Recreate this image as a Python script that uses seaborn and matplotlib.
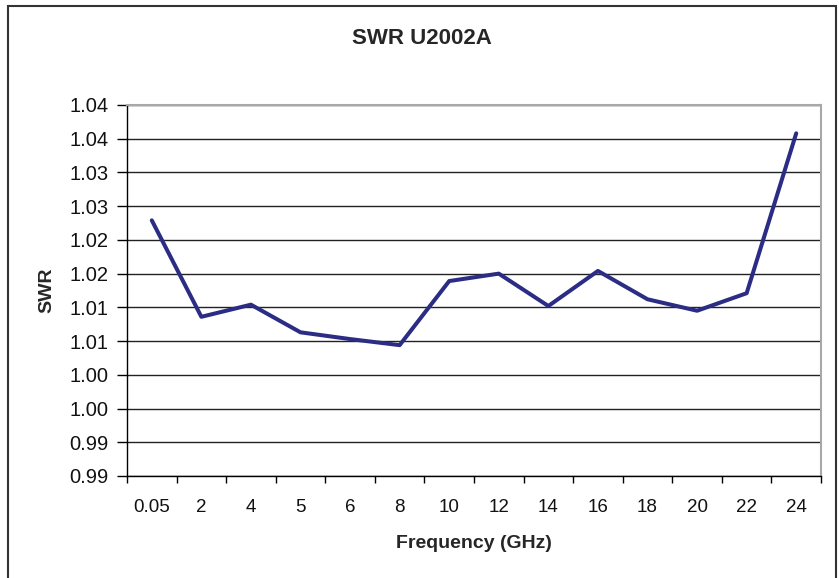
import matplotlib
matplotlib.use("Agg")
import matplotlib.pyplot as plt
import seaborn as sns
import pandas as pd
from matplotlib.patches import Rectangle

# data
freq_labels = ["0.05", "2", "4", "5", "6", "8", "10", "12", "14", "16", "18", "20", "22", "24"]
swr_values = [1.0229, 1.0086, 1.0104, 1.0063, 1.0053, 1.0044, 1.0139, 1.0150,
              1.0102, 1.0154, 1.0112, 1.0095, 1.0121, 1.0358]
y_ticks = [0.985, 0.990, 0.995, 1.000, 1.005, 1.010, 1.015, 1.020, 1.025, 1.030, 1.035, 1.040]
y_tick_labels = ["0.99", "0.99", "1.00", "1.00", "1.01", "1.01", "1.02", "1.02",
                 "1.03", "1.03", "1.04", "1.04"]


def main():
    sns.set_style("white")
    plt.rcParams["font.family"] = ["Liberation Sans", "DejaVu Sans"]

    df = pd.DataFrame({"freq": freq_labels, "swr": swr_values})

    fig = plt.figure(figsize=(8.39, 5.78), dpi=100)
    ax = fig.add_axes([127 / 839, 1 - 476 / 578, (821 - 127) / 839, (476 - 105) / 578])

    sns.lineplot(data=df, x="freq", y="swr", ax=ax, color="#2b2d85",
                 linewidth=2.9, sort=False)

    ax.set_xlim(-0.5, len(freq_labels) - 0.5)
    ax.set_ylim(y_ticks[0], y_ticks[-1])

    ax.set_yticks(y_ticks)
    ax.set_yticklabels(y_tick_labels, fontsize=14.5)
    ax.set_xticks(range(len(freq_labels)))
    ax.set_xticklabels(freq_labels, fontsize=13.5)
    ax.set_xticks([i - 0.5 for i in range(len(freq_labels) + 1)], minor=True)
    ax.tick_params(axis="x", which="major", bottom=True, length=0, pad=16.5)
    ax.tick_params(axis="x", which="minor", bottom=True, length=5, width=1,
                   color="black", direction="out")
    ax.tick_params(axis="y", left=True, length=7, width=1, color="black",
                   direction="out", pad=6.5)
    for lbl in ax.get_xticklabels() + ax.get_yticklabels():
        lbl.set_color("#111111")

    ax.yaxis.grid(True, color="#222222", linewidth=1.0)
    ax.xaxis.grid(False)

    for side in ["left", "bottom"]:
        ax.spines[side].set_color("black")
        ax.spines[side].set_linewidth(1.0)
    for side in ["top", "right"]:
        ax.spines[side].set_color("#a8a8a8")
        ax.spines[side].set_linewidth(1.5)

    ax.set_xlabel("Frequency (GHz)", fontsize=14, fontweight="bold", labelpad=13.5)
    ax.set_ylabel("SWR", fontsize=14, fontweight="bold", labelpad=10)
    fig.text(422 / 839, 1 - 38 / 578, "SWR U2002A", ha="center", va="center",
             fontsize=16, fontweight="bold")

    # outer chart frame
    fig.patches.append(Rectangle((8 / 839, -0.01), (836 - 8) / 839, 1 - 6 / 578 + 0.01,
                                 transform=fig.transFigure, fill=False,
                                 edgecolor="#333333", linewidth=1.5))

    fig.savefig("out.png", dpi=100)
    plt.close(fig)


if __name__ == "__main__":
    main()
